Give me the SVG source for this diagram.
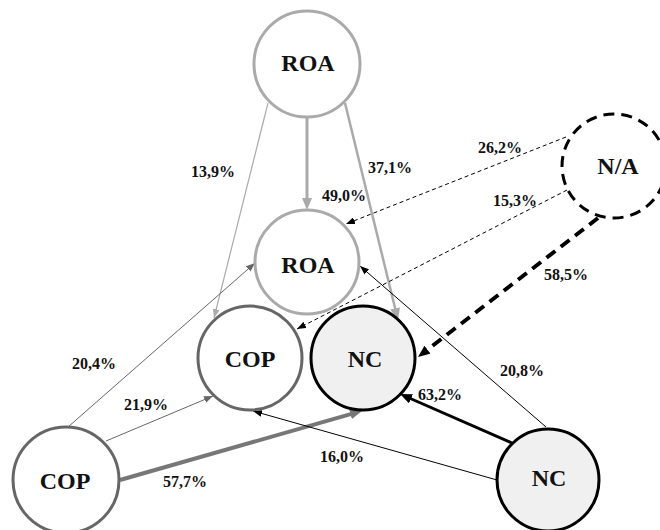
<svg xmlns="http://www.w3.org/2000/svg" width="660" height="530" viewBox="0 0 660 530">
<style>
.n{stroke-width:3}
.roa{fill:#fff;stroke:#aaa}
.cop{fill:#fff;stroke:#666}
.nc{fill:#f0f0f0;stroke:#000}
.na{fill:#fff;stroke:#000;stroke-dasharray:11 7}
.t{font-family:"Liberation Serif","Times New Roman",serif;font-weight:bold;fill:#111;text-anchor:middle}
.nt{font-size:24px}
.et{font-size:16px}
.e{fill:none}
</style>
<defs>
<marker id="tg" viewBox="0 0 9 7" refX="9" refY="3.5" markerWidth="9" markerHeight="7" markerUnits="userSpaceOnUse" orient="auto"><path d="M0,0L9,3.5L0,7z" fill="#aaa"/></marker>
<marker id="td" viewBox="0 0 9 7" refX="9" refY="3.5" markerWidth="9" markerHeight="7" markerUnits="userSpaceOnUse" orient="auto"><path d="M0,0L9,3.5L0,7z" fill="#666"/></marker>
<marker id="tb" viewBox="0 0 9 7" refX="9" refY="3.5" markerWidth="9" markerHeight="7" markerUnits="userSpaceOnUse" orient="auto"><path d="M0,0L9,3.5L0,7z" fill="#000"/></marker>
<marker id="Tg" viewBox="0 0 12 10" refX="2" refY="5" markerWidth="12" markerHeight="10" markerUnits="userSpaceOnUse" orient="auto"><path d="M0,0L12,5L0,10z" fill="#aaa"/></marker>
<marker id="Td" viewBox="0 0 12 10" refX="2" refY="5" markerWidth="12" markerHeight="10" markerUnits="userSpaceOnUse" orient="auto"><path d="M0,0L12,5L0,10z" fill="#777"/></marker>
<marker id="Tb" viewBox="0 0 12 10" refX="2" refY="5" markerWidth="12" markerHeight="10" markerUnits="userSpaceOnUse" orient="auto"><path d="M0,0L12,5L0,10z" fill="#000"/></marker>
</defs>
<rect width="660" height="530" fill="#fff"/>
<g id="connectors">
<line class="e" x1="307" y1="117" x2="307" y2="200" stroke="#aaa" stroke-width="3" marker-end="url(#Tg)"/>
<line class="e" x1="268" y1="103" x2="214" y2="318" stroke="#aaa" stroke-width="1.2" marker-end="url(#tg)"/>
<line class="e" x1="345" y1="103" x2="395.6" y2="310.3" stroke="#aaa" stroke-width="2.5" marker-end="url(#Tg)"/>
<line class="e" x1="566" y1="137" x2="346" y2="224" stroke="#000" stroke-width="1" stroke-dasharray="4 3" marker-end="url(#tb)"/>
<line class="e" x1="567" y1="190" x2="297" y2="329" stroke="#000" stroke-width="1" stroke-dasharray="4 3" marker-end="url(#tb)"/>
<line class="e" x1="598" y1="218" x2="425.9" y2="350.9" stroke="#000" stroke-width="4" stroke-dasharray="11 7" marker-end="url(#Tb)"/>
<line class="e" x1="68" y1="427" x2="255" y2="263" stroke="#666" stroke-width="1" marker-end="url(#td)"/>
<line class="e" x1="106" y1="441" x2="213" y2="396" stroke="#666" stroke-width="1" marker-end="url(#td)"/>
<line class="e" x1="120" y1="480" x2="352.4" y2="413.7" stroke="#777" stroke-width="4" marker-end="url(#Td)"/>
<line class="e" x1="497" y1="480" x2="253" y2="411" stroke="#000" stroke-width="1" marker-end="url(#tb)"/>
<line class="e" x1="546" y1="427" x2="360" y2="266" stroke="#000" stroke-width="1" marker-end="url(#tb)"/>
<line class="e" x1="512" y1="443" x2="409.2" y2="398" stroke="#000" stroke-width="3" marker-end="url(#Tb)"/>
</g>
<g id="labels">
<text class="t et" x="213" y="177">13,9%</text>
<text class="t et" x="390" y="173">37,1%</text>
<text class="t et" x="344" y="201">49,0%</text>
<text class="t et" x="500" y="153">26,2%</text>
<text class="t et" x="515" y="206">15,3%</text>
<text class="t et" x="566" y="280">58,5%</text>
<text class="t et" x="94" y="369">20,4%</text>
<text class="t et" x="146" y="410">21,9%</text>
<text class="t et" x="185" y="487">57,7%</text>
<text class="t et" x="342" y="462">16,0%</text>
<text class="t et" x="522" y="376">20,8%</text>
<text class="t et" x="440" y="400">63,2%</text>
</g>
<g id="roa-top"><circle class="n roa" cx="307" cy="64" r="53"/><text class="t nt" x="308" y="71">ROA</text></g>
<g id="roa-mid"><circle class="n roa" cx="307" cy="262" r="52"/><text class="t nt" x="308" y="273">ROA</text></g>
<g id="cop-mid"><circle class="n cop" cx="250" cy="358" r="52"/><text class="t nt" x="250" y="367">COP</text></g>
<g id="nc-mid"><circle class="n nc" cx="363" cy="358" r="52"/><text class="t nt" x="365" y="367">NC</text></g>
<g id="na"><circle class="n na" cx="614" cy="166" r="52"/><text class="t nt" x="618" y="174">N/A</text></g>
<g id="cop-bot"><circle class="n cop" cx="66" cy="480" r="53"/><text class="t nt" x="65" y="489">COP</text></g>
<g id="nc-bot"><circle class="n nc" cx="548" cy="480" r="51"/><text class="t nt" x="549" y="486">NC</text></g>
</svg>
